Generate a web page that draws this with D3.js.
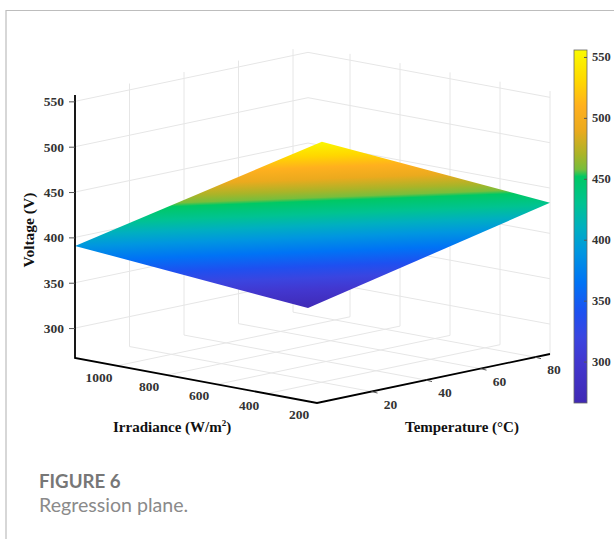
<!DOCTYPE html>
<html>
<head>
<meta charset="utf-8">
<script src="https://cdn.jsdelivr.net/npm/d3@7"></script>
<style>
  html, body { margin: 0; padding: 0; background: #fff; }
  svg { display: block; }
  .tick-label { font-family: "Liberation Serif", serif; font-weight: bold; font-size: 13.5px; fill: #333; }
  .axis-title { font-family: "Liberation Serif", serif; font-weight: bold; font-size: 15px; fill: #111; }
</style>
</head>
<body>
<svg></svg>
<script>
const width = 614
const height = 539

// axis limits
const tempLimits = [0, 85.5]
const irrLimits = [200, 1168]
const voltLimits = [267, 557]

const tempTicks = [20, 40, 60, 80]
const irrTicks = [200, 400, 600, 800, 1000]
const voltTicks = [300, 350, 400, 450, 500, 550]

// the four corners of the regression plane
const planeTemp = [0, 85.5, 1.8, 85.5]
const planeIrr = [1168, 200, 200, 1168]
const planeVolt = [390.6, 433.7, 554, 268]
const planeOrder = [0, 2, 1, 3]

// colour bar
const barValues = [266, 300, 320, 340, 365, 390, 410, 430, 452, 458, 470, 490, 510, 530, 556]
const barColors = ['#4029b4', '#4237cf', '#3a45e0', '#1e50f0', '#0073f5', '#0096e0', '#00afc0', '#00c391', '#00c864', '#78be3c', '#aab428', '#ebaa1e', '#ffb01e', '#ffd700', '#fafa00']

const svg = d3.select('svg').attr('width', width).attr('height', height)

// oblique projection: every axis gets a scale for its pixel share
const tempX = d3.scaleLinear().domain(tempLimits).range([0, 233])
const tempY = d3.scaleLinear().domain(tempLimits).range([0, -49])
const irrX = d3.scaleLinear().domain(irrLimits).range([0, -242])
const irrY = d3.scaleLinear().domain(irrLimits).range([0, -45])
const voltY = d3.scaleLinear().domain(voltLimits).range([0, -263])

const originX = 317
const originY = 403

const project = (t, g, v) => [
  originX + tempX(t) + irrX(g),
  originY + tempY(t) + irrY(g) + voltY(v)
]

const [tMin, tMax] = tempLimits
const [gMin, gMax] = irrLimits
const [vMin, vMax] = voltLimits

// card border
svg.append('path')
  .attr('d', `M6,539V10.5H614`)
  .attr('fill', 'none')
  .attr('stroke', '#bdbdbd')
  .attr('stroke-width', 1.2)

// grid on walls and floor
const gridLines = []
tempTicks.forEach(t => {
  gridLines.push([project(t, gMax, vMin), project(t, gMax, vMax)])
  gridLines.push([project(t, gMax, vMin), project(t, gMin, vMin)])
})
irrTicks.forEach(g => {
  gridLines.push([project(tMax, g, vMin), project(tMax, g, vMax)])
  gridLines.push([project(tMax, g, vMin), project(tMin, g, vMin)])
})
voltTicks.forEach(v => {
  gridLines.push([project(tMin, gMax, v), project(tMax, gMax, v)])
  gridLines.push([project(tMax, gMax, v), project(tMax, gMin, v)])
})

const line = d3.line()

svg.append('g').selectAll('path')
  .data(gridLines)
  .enter().append('path')
    .attr('d', d => line(d))
    .attr('stroke', '#e6e6e6')
    .attr('stroke-width', 1)
    .attr('fill', 'none')

// plane colour follows voltage, which is linear across the flat plane,
// so one linear gradient along its screen direction is enough
const colorScale = d3.scaleLinear().domain(barValues).range(barColors)
const corners = planeTemp.map((t, i) => project(t, planeIrr[i], planeVolt[i]))

const [p0, p1, p2] = corners
const dx1 = p1[0] - p0[0], dy1 = p1[1] - p0[1], dv1 = planeVolt[1] - planeVolt[0]
const dx2 = p2[0] - p0[0], dy2 = p2[1] - p0[1], dv2 = planeVolt[2] - planeVolt[0]
const det = dx1 * dy2 - dx2 * dy1
const slopeX = (dv1 * dy2 - dv2 * dy1) / det
const slopeY = (dx1 * dv2 - dx2 * dv1) / det
const norm = slopeX * slopeX + slopeY * slopeY

const atVolt = v => {
  const k = (v - planeVolt[0]) / norm
  return [p0[0] + slopeX * k, p0[1] + slopeY * k]
}

const barMin = barValues[0]
const barMax = barValues[barValues.length - 1]
const offset = d3.scaleLinear().domain([barMin, barMax]).range([0, 1])

const defs = svg.append('defs')
const addStops = grad => grad.selectAll('stop')
  .data(barValues)
  .enter().append('stop')
    .attr('offset', d => offset(d))
    .attr('stop-color', d => colorScale(d))

const [gx1, gy1] = atVolt(barMin)
const [gx2, gy2] = atVolt(barMax)
addStops(defs.append('linearGradient')
  .attr('id', 'planeGrad')
  .attr('gradientUnits', 'userSpaceOnUse')
  .attr('x1', gx1).attr('y1', gy1)
  .attr('x2', gx2).attr('y2', gy2))

svg.append('polygon')
  .attr('points', planeOrder.map(i => corners[i].join(',')).join(' '))
  .attr('fill', 'url(#planeGrad)')

// axes
const leftBottom = project(tMin, gMax, vMin)
const leftTop = project(tMin, gMax, vMax)
const front = project(tMin, gMin, vMin)
const right = project(tMax, gMin, vMin)

svg.append('path')
  .attr('d', line([leftTop, leftBottom, front, right]))
  .attr('fill', 'none')
  .attr('stroke', '#000')
  .attr('stroke-width', 1.8)

const yPos = d3.scaleLinear().domain(voltLimits).range([leftBottom[1], leftTop[1]])
const yAxisG = svg.append('g')
  .attr('transform', `translate(${leftBottom[0]},0)`)
  .call(d3.axisLeft(yPos).tickValues(voltTicks).tickSize(6).tickPadding(5))
yAxisG.select('.domain').remove()
yAxisG.selectAll('line').attr('stroke', '#555')
yAxisG.selectAll('text').attr('class', 'tick-label').attr('font-family', null).attr('font-size', null)

// temperature ticks and labels
svg.append('g').selectAll('line')
  .data(tempTicks)
  .enter().append('line')
    .attr('x1', d => project(d, gMin, vMin)[0])
    .attr('y1', d => project(d, gMin, vMin)[1])
    .attr('x2', d => project(d, gMin, vMin)[0] + 6)
    .attr('y2', d => project(d, gMin, vMin)[1] + 1.5)
    .attr('stroke', '#555')

svg.append('g').selectAll('text')
  .data(tempTicks)
  .enter().append('text')
    .attr('class', 'tick-label')
    .attr('text-anchor', 'middle')
    .attr('x', d => project(d, gMin, vMin)[0] + 19)
    .attr('y', d => project(d, gMin, vMin)[1] + 17)
    .text(d => d)

svg.append('g').selectAll('text')
  .data(irrTicks)
  .enter().append('text')
    .attr('class', 'tick-label')
    .attr('text-anchor', 'middle')
    .attr('x', d => project(tMin, d, vMin)[0] - 18)
    .attr('y', d => project(tMin, d, vMin)[1] + 16)
    .text(d => d)

// axis titles
svg.append('text')
  .attr('class', 'axis-title')
  .attr('text-anchor', 'middle')
  .attr('transform', 'translate(34,230) rotate(-90)')
  .style('font-size', '15.5px')
  .text('Voltage (V)')

const irrTitle = svg.append('text')
  .attr('class', 'axis-title')
  .attr('x', 113)
  .attr('y', 432)
irrTitle.append('tspan').text('Irradiance (W/m')
irrTitle.append('tspan').attr('dy', -6).attr('font-size', 9).text('2')
irrTitle.append('tspan').attr('dy', 6).text(')')

svg.append('text')
  .attr('class', 'axis-title')
  .attr('x', 405)
  .attr('y', 432)
  .text('Temperature (°C)')

// colour bar
const barX = 574
const barW = 13
const barY = d3.scaleLinear().domain([266, 555.7]).range([403, 50])

addStops(defs.append('linearGradient')
  .attr('id', 'barGrad')
  .attr('x1', 0).attr('y1', 1)
  .attr('x2', 0).attr('y2', 0))

svg.append('rect')
  .attr('x', barX)
  .attr('y', barY.range()[1])
  .attr('width', barW)
  .attr('height', barY.range()[0] - barY.range()[1])
  .attr('fill', 'url(#barGrad)')
  .attr('stroke', '#666')
  .attr('stroke-width', 0.8)

const barAxisG = svg.append('g')
  .attr('transform', `translate(${barX + barW},0)`)
  .call(d3.axisRight(barY).tickValues(voltTicks).tickSize(-3).tickPadding(5))
barAxisG.select('.domain').remove()
barAxisG.selectAll('line').attr('stroke', '#555')
barAxisG.selectAll('text').attr('class', 'tick-label').style('font-size', '12.5px').attr('font-family', null).attr('font-size', null)

// caption
svg.append('text')
  .attr('x', 39)
  .attr('y', 488)
  .attr('font-family', 'Lato, sans-serif')
  .attr('font-weight', 700)
  .attr('font-size', 18.7)
  .attr('fill', '#777')
  .text('FIGURE 6')

svg.append('text')
  .attr('x', 39)
  .attr('y', 512)
  .attr('font-family', 'Lato, sans-serif')
  .attr('font-size', 19.6)
  .attr('fill', '#8a8a8a')
  .text('Regression plane.')
</script>
</body>
</html>
